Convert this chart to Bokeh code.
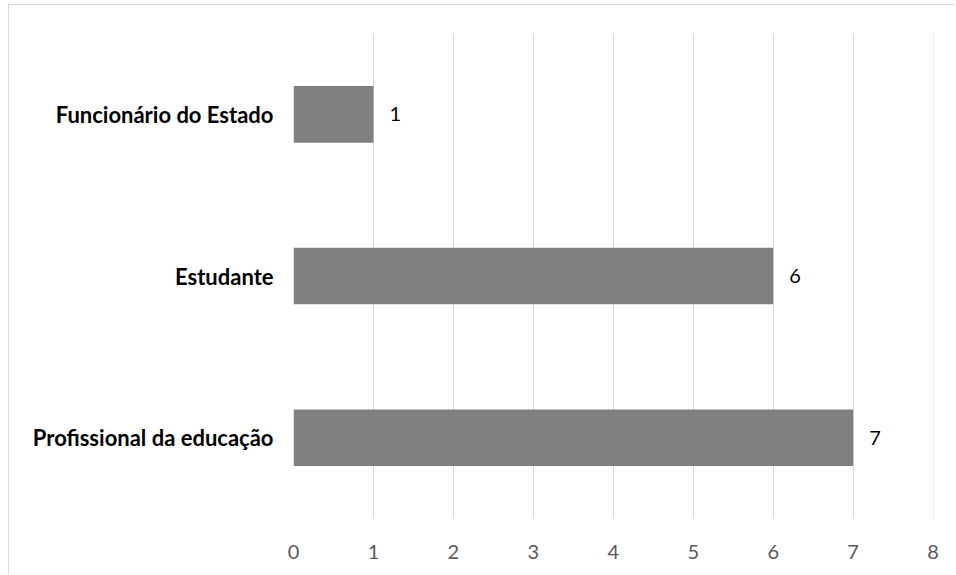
from bokeh.plotting import figure
from bokeh.models import ColumnDataSource, LabelSet, FactorRange, Range1d, FixedTicker
from bokeh.core.properties import value
from bokeh.embed import file_html
from bokeh.resources import INLINE

categories = ["Profissional da educação", "Estudante", "Funcionário do Estado"]
values = [7, 6, 1]
x_ticks = [0, 1, 2, 3, 4, 5, 6, 7, 8]

src = ColumnDataSource(dict(cat=categories, val=values, lab=[str(v) for v in values]))

p = figure(width=946, height=570, output_backend="svg", toolbar_location=None,
           y_range=FactorRange(factors=categories, range_padding=0),
           x_range=Range1d(0, 8.005),
           min_border_left=284, min_border_right=22, min_border_top=28, min_border_bottom=57)
p.styles = {"border-top": "1px solid #d9d9d9", "border-left": "1px solid #d9d9d9",
            "margin-left": "8px", "margin-top": "4px"}
p.outline_line_color = None
p.background_fill_color = "white"
p.border_fill_color = "white"

p.hbar(y="cat", right="val", left=0, height=0.35, source=src, fill_color="#808080", line_color=None)

labels = LabelSet(x="val", y="cat", text="lab", source=src, x_offset=16, text_baseline="middle",
                  text_font=value("Lato"), text_font_size="20px", text_color="black")
p.add_layout(labels)

p.xaxis.ticker = FixedTicker(ticks=x_ticks)
p.xaxis.axis_line_color = None
p.xaxis.major_tick_line_color = None
p.xaxis.minor_tick_line_color = None
p.xaxis.major_label_text_font = "Lato"
p.xaxis.major_label_text_font_size = "20px"
p.xaxis.major_label_text_color = "#595959"
p.xaxis.major_label_standoff = 20

p.yaxis.axis_line_color = None
p.yaxis.major_tick_line_color = None
p.yaxis.major_label_text_font = "Lato"
p.yaxis.major_label_text_font_style = "bold"
p.yaxis.major_label_text_font_size = "22px"
p.yaxis.major_label_text_color = "black"
p.yaxis.major_label_standoff = 14

p.xgrid.grid_line_color = "#d9d9d9"
p.xgrid.grid_line_width = 1
p.ygrid.grid_line_color = None

open("out.html", "w").write(file_html(p, INLINE))
